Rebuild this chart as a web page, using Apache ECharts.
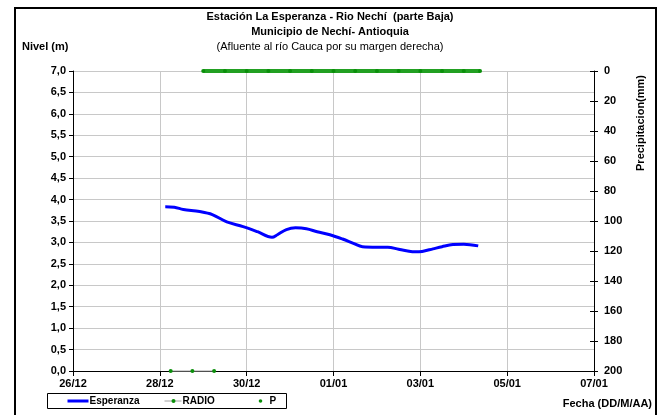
<!DOCTYPE html>
<html>
<head>
<meta charset="utf-8">
<script src="https://cdn.jsdelivr.net/npm/echarts@6/dist/echarts.min.js"></script>
<style>
  html, body { margin: 0; padding: 0; background: #fff; }
  #chart { width: 661px; height: 415px; }
</style>
</head>
<body>
<div id="chart"></div>
<script>
// Nivel del río (m) en la estación La Esperanza
const esperanzaTimes = [
  '2010-12-28T03:00Z', '2010-12-28T08:00Z', '2010-12-28T13:00Z', '2010-12-28T22:00Z',
  '2010-12-29T05:00Z', '2010-12-29T13:00Z', '2010-12-29T22:00Z', '2010-12-30T06:00Z',
  '2010-12-30T14:00Z', '2010-12-30T17:00Z', '2010-12-30T22:00Z', '2010-12-31T03:00Z',
  '2010-12-31T09:00Z', '2010-12-31T15:00Z', '2010-12-31T22:00Z', '2011-01-01T05:00Z',
  '2011-01-01T11:00Z', '2011-01-01T16:00Z', '2011-01-02T00:00Z', '2011-01-02T06:00Z',
  '2011-01-02T12:00Z', '2011-01-02T17:00Z', '2011-01-02T21:00Z', '2011-01-03T01:00Z',
  '2011-01-03T07:00Z', '2011-01-03T12:00Z', '2011-01-03T18:00Z', '2011-01-04T00:00Z',
  '2011-01-04T08:00Z'
];
const esperanzaValues = [
  3.83, 3.82, 3.77, 3.72,
  3.65, 3.48, 3.37, 3.25,
  3.12, 3.18, 3.30, 3.34,
  3.32, 3.25, 3.18, 3.08,
  2.98, 2.90, 2.89, 2.89,
  2.84, 2.80, 2.78, 2.79,
  2.85, 2.90, 2.95, 2.96,
  2.92
];

// Reportes por radio (nivel en m)
const radioTimes = ['2010-12-28T06:00Z', '2010-12-28T18:00Z', '2010-12-29T06:00Z'];
const radioValues = [0, 0, 0];

// Precipitación (mm)
const pTimes = [
  '2010-12-29T00:00Z', '2010-12-29T12:00Z', '2010-12-30T00:00Z', '2010-12-30T12:00Z',
  '2010-12-31T00:00Z', '2010-12-31T12:00Z', '2011-01-01T00:00Z', '2011-01-01T12:00Z',
  '2011-01-02T00:00Z', '2011-01-02T12:00Z', '2011-01-03T00:00Z', '2011-01-03T12:00Z',
  '2011-01-04T00:00Z', '2011-01-04T09:00Z'
];
const pValues = [0, 0, 0, 0, 0, 0, 0, 0, 0, 0, 0, 0, 0, 0];

const xStart = '2010-12-26T00:00Z';
const xEnd = '2011-01-07T00:00Z';
const dayMs = 86400000;

const titleLines = [
  'Estación La Esperanza - Rio Nechí  (parte Baja)',
  'Municipio de Nechí- Antioquia',
  '(Afluente al río Cauca por su margen derecha)'
];

const FONT = '"Liberation Sans", Arial, sans-serif';
const BLUE = '#0000ff';
const GREEN = '#0a8f0a';
const GRID = '#c8c8c8';

function pairs(times, values) {
  return times.map((t, i) => [Date.parse(t), values[i]]);
}
function two(n) { return (n < 10 ? '0' : '') + n; }

const chart = echarts.init(document.getElementById('chart'), null, { renderer: 'canvas' });

const boldText = { color: '#000', fontFamily: FONT, fontWeight: 'bold', fontSize: 11 };

chart.setOption({
  animation: false,
  backgroundColor: '#fff',
  grid: { left: 73, right: 67, top: 71, bottom: 44, containLabel: false },
  xAxis: {
    type: 'value',
    min: Date.parse(xStart),
    max: Date.parse(xEnd),
    interval: 2 * dayMs,
    axisLine: { show: true, onZero: false, lineStyle: { color: '#000', width: 1 } },
    axisTick: { show: true, length: 5, lineStyle: { color: '#000' } },
    splitLine: { show: true, lineStyle: { color: GRID, width: 1 } },
    axisLabel: Object.assign({
      margin: 7,
      formatter: v => { const d = new Date(v); return two(d.getUTCDate()) + '/' + two(d.getUTCMonth() + 1); }
    }, boldText)
  },
  yAxis: [
    {
      type: 'value', min: 0, max: 7, interval: 0.5, position: 'left',
      axisLine: { show: true, lineStyle: { color: '#000' } },
      axisTick: { show: true, length: 4, lineStyle: { color: '#000' } },
      splitLine: { show: true, lineStyle: { color: GRID, width: 1 } },
      axisLabel: Object.assign({ margin: 7, formatter: v => v.toFixed(1).replace('.', ',') }, boldText)
    },
    {
      type: 'value', min: 0, max: 200, interval: 20, inverse: true, position: 'right',
      axisLine: { show: true, lineStyle: { color: '#000' } },
      axisTick: { show: true, length: 4, lineStyle: { color: '#000' } },
      splitLine: { show: false },
      axisLabel: Object.assign({ margin: 10 }, boldText)
    },
    {
      // inner half of the crossing ticks on the precipitation axis
      type: 'value', min: 0, max: 200, interval: 20, inverse: true, position: 'right',
      axisLine: { show: false },
      axisTick: { show: true, inside: true, length: 4, lineStyle: { color: '#000' } },
      splitLine: { show: false },
      axisLabel: { show: false }
    }
  ],
  series: [
    {
      name: 'Esperanza', type: 'line', yAxisIndex: 0,
      data: pairs(esperanzaTimes, esperanzaValues),
      smooth: 0.35, showSymbol: false,
      lineStyle: { color: BLUE, width: 3 }, itemStyle: { color: BLUE }
    },
    {
      name: 'RADIO', type: 'line', yAxisIndex: 0,
      data: pairs(radioTimes, radioValues),
      clip: false, symbol: 'circle', symbolSize: 4, showSymbol: true,
      lineStyle: { color: '#a0a0a0', width: 1 }, itemStyle: { color: GREEN }
    },
    {
      name: 'P', type: 'line', yAxisIndex: 1,
      data: pairs(pTimes, pValues),
      clip: false, symbol: 'circle', symbolSize: 4, showSymbol: true,
      lineStyle: { color: '#22a022', width: 4 }, itemStyle: { color: GREEN }
    }
  ],
  graphic: [
    // outer frame
    { type: 'rect', shape: { x: 15, y: 8, width: 641, height: 420 },
      style: { fill: null, stroke: '#000', lineWidth: 2 }, silent: true },
    { type: 'text', x: 330, y: 17, style: { text: titleLines[0], fill: '#000', font: 'bold 11px ' + FONT, textAlign: 'center', textVerticalAlign: 'middle' } },
    { type: 'text', x: 330, y: 32, style: { text: titleLines[1], fill: '#000', font: 'bold 11px ' + FONT, textAlign: 'center', textVerticalAlign: 'middle' } },
    { type: 'text', x: 330, y: 47, style: { text: titleLines[2], fill: '#000', font: '11px ' + FONT, textAlign: 'center', textVerticalAlign: 'middle' } },
    { type: 'text', x: 22, y: 47, style: { text: 'Nivel (m)', fill: '#000', font: 'bold 11px ' + FONT, textAlign: 'left', textVerticalAlign: 'middle' } },
    { type: 'text', x: 652, y: 404, style: { text: 'Fecha (DD/M/AA)', fill: '#000', font: 'bold 11px ' + FONT, textAlign: 'right', textVerticalAlign: 'middle' } },
    { type: 'text', x: 641, y: 123, rotation: Math.PI / 2,
      style: { text: 'Precipitacion(mm)', fill: '#000', font: 'bold 11px ' + FONT, textAlign: 'center', textVerticalAlign: 'middle' } },
    // legend box
    { type: 'group', left: 47, top: 393, children: [
      { type: 'rect', shape: { x: 0, y: 0, width: 239, height: 15 }, style: { fill: '#fff', stroke: '#000', lineWidth: 1 } },
      { type: 'line', shape: { x1: 20, y1: 7.5, x2: 41, y2: 7.5 }, style: { stroke: BLUE, lineWidth: 3 } },
      { type: 'text', x: 42, y: 8, style: { text: 'Esperanza', fill: '#000', font: 'bold 10px ' + FONT, textVerticalAlign: 'middle' } },
      { type: 'line', shape: { x1: 117, y1: 7.5, x2: 134, y2: 7.5 }, style: { stroke: '#a0a0a0', lineWidth: 1 } },
      { type: 'circle', shape: { cx: 126, cy: 7.5, r: 2 }, style: { fill: GREEN } },
      { type: 'text', x: 135, y: 8, style: { text: 'RADIO', fill: '#000', font: 'bold 10px ' + FONT, textVerticalAlign: 'middle' } },
      { type: 'circle', shape: { cx: 213, cy: 7.5, r: 1.8 }, style: { fill: GREEN } },
      { type: 'text', x: 222, y: 8, style: { text: 'P', fill: '#000', font: 'bold 10px ' + FONT, textVerticalAlign: 'middle' } }
    ] }
  ]
});
</script>
</body>
</html>
